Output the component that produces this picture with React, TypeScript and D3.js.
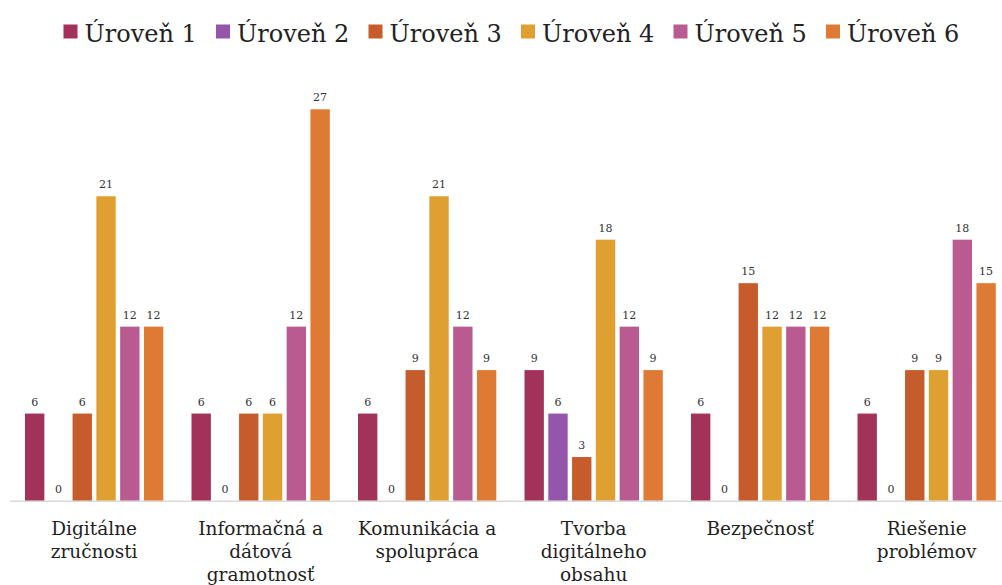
import React from "react";
import * as d3 from "d3";

// Competence areas (x categories), split into the lines they are printed on
const categories = [
  "Digitálne zručnosti",
  "Informačná a dátová gramotnosť",
  "Komunikácia a spolupráca",
  "Tvorba digitálneho obsahu",
  "Bezpečnosť",
  "Riešenie problémov",
];
const categoryLines = [
  ["Digitálne", "zručnosti"],
  ["Informačná a", "dátová", "gramotnosť"],
  ["Komunikácia a", "spolupráca"],
  ["Tvorba", "digitálneho", "obsahu"],
  ["Bezpečnosť"],
  ["Riešenie", "problémov"],
];

// Levels (series)
const levels = ["Úroveň 1", "Úroveň 2", "Úroveň 3", "Úroveň 4", "Úroveň 5", "Úroveň 6"];
const level1 = [6, 6, 6, 9, 6, 6];
const level2 = [0, 0, 0, 6, 0, 0];
const level3 = [6, 6, 9, 3, 15, 9];
const level4 = [21, 6, 21, 18, 12, 9];
const level5 = [12, 12, 12, 12, 12, 18];
const level6 = [12, 27, 9, 9, 12, 15];
const seriesValues = [level1, level2, level3, level4, level5, level6];

const colors = ["#A3325A", "#9555AB", "#C65C2B", "#E0A031", "#B95B91", "#DF7A34"];

const W = 1002;
const H = 585;
const FONT = "'DejaVu Serif', 'Liberation Serif', serif";

export default function App() {
  const baseY = 500.5;
  const x0 = d3
    .scaleBand<number>()
    .domain(d3.range(categories.length))
    .range([10.9, 1009.9])
    .paddingInner(0.1694)
    .paddingOuter(0.0847);
  const x1 = d3
    .scaleBand<number>()
    .domain(d3.range(levels.length))
    .range([0, x0.bandwidth()])
    .paddingInner(0.186)
    .paddingOuter(0);
  const y = d3.scaleLinear().domain([0, 27]).range([baseY, 109.3]);

  const legendStart = 63.5;
  const legendStep = 152.5;

  return (
    <svg
      width={W}
      height={H}
      style={{ position: "absolute", left: 0, top: 0, background: "#ffffff" }}
      fontFamily={FONT}
    >
      {/* legend */}
      <g>
        {levels.map((name, i) => (
          <g key={name} transform={`translate(${legendStart + i * legendStep},0)`}>
            <rect x={0} y={24.5} width={14} height={14} fill={colors[i]} />
            <text x={21} y={41.5} fontSize={24} fill="#222">
              {name}
            </text>
          </g>
        ))}
      </g>

      {/* baseline */}
      <line x1={10} x2={W} y1={baseY + 0.75} y2={baseY + 0.75} stroke="#d9d9d9" strokeWidth={1.5} />

      {/* bars and value labels */}
      {categories.map((cat, ci) => (
        <g key={cat} transform={`translate(${x0(ci)},0)`}>
          {seriesValues.map((vals, si) => {
            const v = vals[ci];
            const bx = x1(si)!;
            const bw = x1.bandwidth();
            return (
              <g key={si}>
                <rect x={bx} y={y(v)} width={bw} height={baseY - y(v)} fill={colors[si]} />
                <text
                  x={bx + bw / 2}
                  y={y(v) - 8}
                  textAnchor="middle"
                  fontSize={11}
                  fill="#333"
                >
                  {v}
                </text>
              </g>
            );
          })}
          {/* category label */}
          <text
            x={x0.bandwidth() / 2}
            y={535}
            textAnchor="middle"
            fontSize={18.5}
            fill="#1f1f1f"
          >
            {categoryLines[ci].map((line, li) => (
              <tspan key={li} x={x0.bandwidth() / 2} dy={li === 0 ? 0 : 23}>
                {line}
              </tspan>
            ))}
          </text>
        </g>
      ))}
    </svg>
  );
}
